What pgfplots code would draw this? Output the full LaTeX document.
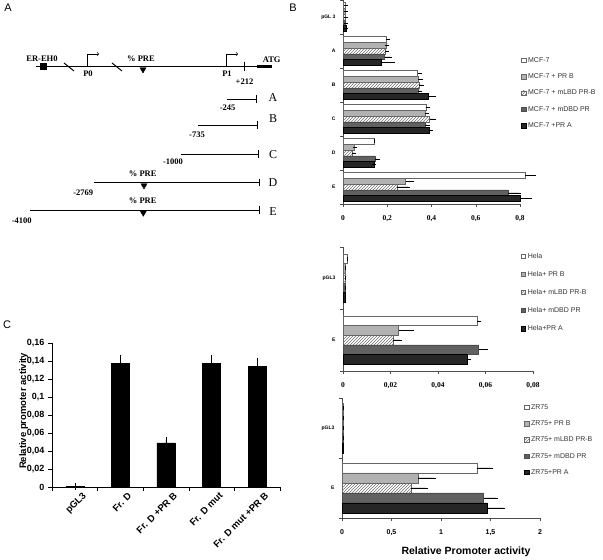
\documentclass[border=0pt]{standalone}
\usepackage{pgfplots}
\pgfplotsset{compat=1.18}
\usepackage{fontspec}
\setmainfont{Liberation Sans}
\newfontfamily\tnr{Liberation Serif}
\usetikzlibrary{patterns}

\pgfplotsset{
  sA/.style={fill=white, draw=black!60},
  sB/.style={fill=black!30, draw=black!60},
  sC/.style={pattern=north east lines, pattern color=black!55, draw=black!60},
  sD/.style={fill=black!62, draw=black!70},
  sE/.style={fill=black!85, draw=black},
  eb/.style={error bars/.cd, x dir=plus, x explicit, error bar style={black, line width=0.5pt}, error mark options={black, line width=0.5pt, mark size=2pt}},
  panelB/.style={
    scale only axis, xbar, clip=false, anchor=south west,
    axis x line*=bottom, axis y line*=left, axis line style={black!70,-},
    tick align=outside, major tick length=3pt, tick style={black!70},
    xmin=0, scaled x ticks=false,
    xticklabel style={font=\tnr\bfseries\fontsize{7.5}{8}\selectfont, yshift=-5pt},
    yticklabels={},
    extra y tick style={major tick length=0pt, yticklabel style={font=\bfseries\fontsize{5}{6}\selectfont, xshift=-4pt}},
    legend cell align=left,
    legend style={draw=none, fill=none, font=\fontsize{7}{8}\selectfont\color{black!80}, row sep=6pt, anchor=north west},
    legend image code/.code={\draw[##1] (0pt,-2pt) rectangle (4.5pt,2.5pt);},
  },
}

\begin{document}
\begin{tikzpicture}
\useasboundingbox (0pt,0pt) rectangle (603pt,560pt);

% ---------------- Panel A (diagram) ----------------
\begin{axis}[at={(0pt,560pt)}, anchor=north west, scale only axis, width=290pt, height=230pt,
  xmin=0, xmax=290, ymin=0, ymax=230, y dir=reverse, hide axis, clip=false]
\addplot[black, mark=none, line width=0.7pt] coordinates {(36,66.7)(257,66.7)};
\addplot[black, mark=none, line width=3pt] coordinates {(257,66.7)(272,66.7)};
\addplot[black, only marks, mark=square*, mark size=3pt] coordinates {(43.5,66.7)};
\addplot[black, mark=none, line width=1pt] coordinates {(64,63)(74,71)};
\addplot[black, mark=none, line width=1pt] coordinates {(112,63)(122,71)};
\addplot[black, mark=none, line width=0.6pt, ->] coordinates {(87.7,66.7)(87.7,54)(99,54)};
\addplot[black, mark=none, line width=0.6pt, ->] coordinates {(226.7,66.7)(226.7,54)(238,54)};
\addplot[black, mark=none, line width=0.6pt] coordinates {(244.3,62)(244.3,71)};
\addplot[black, only marks, mark=triangle*, mark options={rotate=180}, mark size=3.5pt] coordinates {(143,69.5)(144,185.5)(143.3,212.8)};
% fragments
\addplot[black, mark=none, line width=0.7pt] coordinates {(226.7,99.3)(256.7,99.3)};
\addplot[black, mark=none, line width=0.7pt] coordinates {(256.7,95.5)(256.7,103)};
\addplot[black, mark=none, line width=0.7pt] coordinates {(198.3,125)(257.3,125)};
\addplot[black, mark=none, line width=0.7pt] coordinates {(257.3,121.2)(257.3,128.8)};
\addplot[black, mark=none, line width=0.7pt] coordinates {(181,154)(258.3,154)};
\addplot[black, mark=none, line width=0.7pt] coordinates {(258.3,150.2)(258.3,157.8)};
\addplot[black, mark=none, line width=0.7pt] coordinates {(94.3,182.7)(259.3,182.7)};
\addplot[black, mark=none, line width=0.7pt] coordinates {(259.3,178.9)(259.3,186.5)};
\addplot[black, mark=none, line width=0.7pt] coordinates {(30,210)(259.3,210)};
\addplot[black, mark=none, line width=0.7pt] coordinates {(259.3,206.2)(259.3,213.8)};
\begin{scope}[font=\tnr\bfseries\fontsize{8.5}{9}\selectfont]
\node at (axis cs:42,58.3) {ER-EH0};
\node at (axis cs:88,73.5) {P0};
\node at (axis cs:141,58.3) {\% PRE};
\node at (axis cs:227,74) {P1};
\node at (axis cs:244.5,81.7) {+212};
\node at (axis cs:271.7,59.5) {ATG};
\node at (axis cs:227.7,107.3) {-245};
\node at (axis cs:197,135) {-735};
\node at (axis cs:173,161.7) {-1000};
\node at (axis cs:83.3,192.7) {-2769};
\node at (axis cs:21.7,220.7) {-4100};
\node at (axis cs:142.7,174) {\% PRE};
\node at (axis cs:142.7,200.7) {\% PRE};
\end{scope}
\begin{scope}[font=\tnr\fontsize{12}{14}\selectfont]
\node at (axis cs:273,97.5) {A};
\node at (axis cs:273,118.5) {B};
\node at (axis cs:273,155) {C};
\node at (axis cs:273,182.5) {D};
\node at (axis cs:273,212) {E};
\end{scope}
\end{axis}

% ---------------- Panel B: MCF-7 ----------------
\begin{axis}[panelB, at={(343pt,356pt)}, width=177pt, height=204pt,
  xmax=0.8, xtick={0,0.2,0.4,0.6,0.8}, xticklabels={0,{0,2},{0,4},{0,6},{0,8}},
  ymin=-0.5, ymax=5.5, ytick={-0.5,0.5,1.5,2.5,3.5,4.5,5.5},
  extra y ticks={0,1,2,3,4,5}, extra y tick labels={E,D,C,B,A,pGL 3},
  bar width=5.8pt,
  legend style={at={(0.989,0.74)}}]
\addplot[sA, bar shift=11.6pt, eb] coordinates {(0.012,5)+-(0.001,0) (0.194,4)+-(0.009,0) (0.337,3)+-(0.009,0) (0.374,2)+-(0.009,0) (0.141,1)+-(0,0) (0.824,0)+-(0.039,0)};
\addplot[sB, bar shift=5.8pt, eb] coordinates {(0.012,5)+-(0.001,0) (0.194,4)+-(0.007,0) (0.341,3)+-(0.012,0) (0.371,2)+-(0.008,0) (0.050,1)+-(0.003,0) (0.283,0)+-(0.031,0)};
\addplot[sC, bar shift=0pt, eb] coordinates {(0.012,5)+-(0.001,0) (0.191,4)+-(0.007,0) (0.344,3)+-(0.015,0) (0.391,2)+-(0.021,0) (0.042,1)+-(0.009,0) (0.243,0)+-(0.05,0)};
\addplot[sD, bar shift=-5.8pt, eb] coordinates {(0.012,5)+-(0.001,0) (0.188,4)+-(0.025,0) (0.341,3)+-(0.009,0) (0.371,2)+-(0.012,0) (0.144,1)+-(0.012,0) (0.746,0)+-(0.05,0)};
\addplot[sE, bar shift=-11.6pt, eb] coordinates {(0.013,5)+-(0.001,0) (0.171,4)+-(0.055,0) (0.386,3)+-(0.026,0) (0.389,2)+-(0.009,0) (0.140,1)+-(0.002,0) (0.803,0)+-(0.04,0)};
\legend{MCF-7, MCF-7 + PR B, MCF-7 + mLBD PR-B, MCF-7 + mDBD PR, MCF-7 +PR A}
\end{axis}

% ---------------- Panel B: Hela ----------------
\begin{axis}[panelB, at={(343pt,189pt)}, width=190pt, height=124pt,
  xmax=0.08, xtick={0,0.02,0.04,0.06,0.08}, xticklabels={0,{0,02},{0,04},{0,06},{0,08}},
  ymin=-0.5, ymax=1.5, ytick={-0.5,0.5,1.5},
  extra y ticks={0,1}, extra y tick labels={E,pGL3},
  bar width=9.6pt,
  legend style={at={(0.92,0.984)}, row sep=7.5pt}]
\addplot[sA, bar shift=19.2pt, eb] coordinates {(0.0016,1)+-(0,0) (0.0567,0)+-(0.0006,0)};
\addplot[sB, bar shift=9.6pt, eb] coordinates {(0.0010,1)+-(0,0) (0.0234,0)+-(0.0055,0)};
\addplot[sC, bar shift=0pt, eb] coordinates {(0.0010,1)+-(0,0) (0.0212,0)+-(0.0028,0)};
\addplot[sD, bar shift=-9.6pt, eb] coordinates {(0.0010,1)+-(0,0) (0.0571,0)+-(0.0030,0)};
\addplot[sE, bar shift=-19.2pt, eb] coordinates {(0.0010,1)+-(0,0) (0.0525,0)+-(0.0007,0)};
\legend{Hela, Hela+ PR B, Hela+ mLBD PR-B, Hela+ mDBD PR, Hela+PR A}
\end{axis}

% ---------------- Panel B: ZR75 ----------------
\begin{axis}[panelB, at={(342pt,42pt)}, width=198pt, height=120pt,
  xmax=2, xtick={0,0.5,1,1.5,2}, xticklabels={0,{0,5},1,{1,5},2},
  xticklabel style={font=\bfseries\fontsize{7}{8}\selectfont},
  ymin=-0.5, ymax=1.5, ytick={-0.5,0.5,1.5},
  extra y ticks={0,1}, extra y tick labels={E,pGL3},
  bar width=10pt,
  legend style={at={(0.904,0.983)}}]
\addplot[sA, bar shift=20pt, eb] coordinates {(0.015,1)+-(0,0) (1.364,0)+-(0.146,0)};
\addplot[sB, bar shift=10pt, eb] coordinates {(0.015,1)+-(0,0) (0.768,0)+-(0.16,0)};
\addplot[sC, bar shift=0pt, eb] coordinates {(0.015,1)+-(0,0) (0.70,0)+-(0.145,0)};
\addplot[sD, bar shift=-10pt, eb] coordinates {(0.015,1)+-(0,0) (1.43,0)+-(0.13,0)};
\addplot[sE, bar shift=-20pt, eb] coordinates {(0.015,1)+-(0,0) (1.47,0)+-(0.16,0)};
\legend{ZR75, ZR75+ PR B, ZR75+ mLBD PR-B, ZR75+ mDBD PR, ZR75+PR A}
\end{axis}

% ---------------- Panel C ----------------
\begin{axis}[scale only axis, at={(52pt,73pt)}, anchor=south west, width=228pt, height=144pt,
  ybar, bar width=18pt, clip=false,
  xmin=-0.5, xmax=4.5, ymin=0, ymax=0.16,
  axis x line*=bottom, axis y line*=left, axis line style={black,-},
  tick align=outside, major tick length=4pt, tick style={black},
  xtick={-0.5,0.5,1.5,2.5,3.5,4.5}, xticklabels={},
  extra x ticks={0,1,2,3,4},
  extra x tick labels={pGL3, Fr. D, Fr. D +PR B, Fr. D mut, Fr. D mut +PR B},
  extra x tick style={major tick length=0pt, xticklabel style={rotate=45, anchor=north east, font=\bfseries\fontsize{9.5}{10}\selectfont, xshift=5pt, yshift=-5pt}},
  ytick={0,0.02,0.04,0.06,0.08,0.1,0.12,0.14,0.16},
  yticklabels={0,{0,02},{0,04},{0,06},{0,08},{0,1},{0,12},{0,14},{0,16}},
  yticklabel style={font=\bfseries\fontsize{9}{10}\selectfont},
  ylabel={Relative promoter activity},
  every axis y label/.style={at={(ticklabel cs:0.55)}, rotate=90, anchor=center, xshift=-3pt, font=\bfseries\fontsize{9.5}{11}\selectfont}]
\addplot[fill=black, draw=black, error bars/.cd, y dir=plus, y explicit, error bar style={black, line width=0.6pt}, error mark options={black, line width=0.6pt, mark size=3.5pt}]
  coordinates {(0,0.0008)+-(0,0) (1,0.137)+-(0,0.006) (2,0.049)+-(0,0.003) (3,0.137)+-(0,0.006) (4,0.134)+-(0,0.005)};
\end{axis}

% ---------------- Annotations ----------------
\node[font=\fontsize{11}{13}\selectfont] at (8pt,552pt) {A};
\node[font=\fontsize{11}{13}\selectfont] at (293pt,552pt) {B};
\node[font=\fontsize{11}{13}\selectfont] at (7pt,235pt) {C};
\node[font=\bfseries\fontsize{10.5}{12}\selectfont] at (466pt,8pt) {Relative Promoter activity};
\end{tikzpicture}
\end{document}
